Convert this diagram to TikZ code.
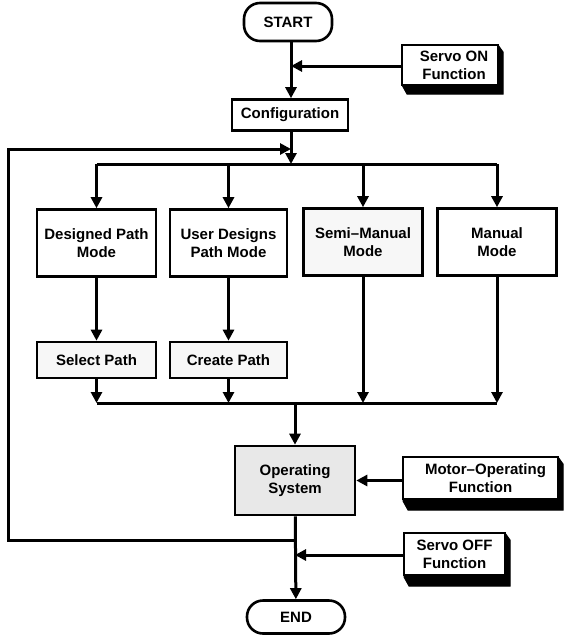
\documentclass[tikz,border=0pt]{standalone}
\usepackage{fontspec}
\setmainfont{Liberation Sans}
\usetikzlibrary{arrows.meta}
\begin{document}
\begin{tikzpicture}[x=1pt,y=1pt,
  every node/.style={font=\fontsize{15}{18}\selectfont\bfseries, align=center, inner sep=1pt},
  box/.style={draw, line width=2.6pt, fill=white, minimum width=119pt, minimum height=67pt},
  smallbox/.style={box, minimum height=36pt},
  term/.style={draw, line width=2.6pt, fill=white, rounded corners=16pt, minimum width=88pt, minimum height=38pt},
  fnbox/.style={draw, line width=2.6pt, fill=white},
  shadowfill/.style={fill=black, draw=black, line width=1pt, line join=miter},
  conn/.style={line width=3pt},
  arr/.style={conn, -{Triangle[length=11pt,width=11pt]}}
]
\useasboundingbox (0,0) rectangle (566,-635);

% 3D shadows (drawn behind the boxes)
\filldraw[shadowfill] (402,-45) -- (498,-45) -- (503,-52) -- (503,-94) -- (407,-94) -- (402,-85) -- cycle;
\filldraw[shadowfill] (403,-457) -- (558,-457) -- (563,-464) -- (563,-510) -- (408,-510) -- (403,-501) -- cycle;
\filldraw[shadowfill] (404,-533) -- (505,-533) -- (510,-540) -- (510,-586) -- (409,-586) -- (404,-577) -- cycle;

% nodes
\node[term] (start) at (288,-22) {START};
\node[box, minimum width=116pt, minimum height=31pt] (config) at (290,-115) {Configuration};
\node[fnbox, minimum width=96pt, minimum height=40pt] (son) at (450,-65) {\hspace*{8pt}Servo ON\\\hspace*{8pt}Function};

\node[box] (dp) at (96.5,-243) {Designed Path\\Mode};
\node[box, minimum width=117pt] (ud) at (228.5,-243) {User Designs\\Path Mode};
\node[box, fill=gray!6] (sm) at (363,-242) {Semi--Manual\\Mode};
\node[box] (mm) at (497,-242) {Manual\\Mode};

\node[smallbox, fill=gray!6] (sel) at (96.5,-360) {Select Path};
\node[smallbox, minimum width=117pt, fill=gray!6] (cre) at (228.5,-360) {Create Path};

\node[box, minimum width=120pt, minimum height=69pt, fill=gray!18] (os) at (295,-480.5) {Operating\\System};
\node[fnbox, minimum width=155pt, minimum height=42pt] (mot) at (480.5,-478) {\hspace*{10pt}Motor--Operating\\Function};
\node[fnbox, minimum width=101pt, minimum height=42pt] (soff) at (454.5,-554) {Servo OFF\\Function};
\node[term, minimum width=98pt, minimum height=33pt] (end) at (296,-617) {END};

% junction coordinates
\coordinate (jon) at (291,-66);
\coordinate (jloop) at (291,-149);
\coordinate (dist) at (291,-164);
\coordinate (dl) at (96.5,-164);
\coordinate (dr) at (497,-164);
\coordinate (coll) at (295,-403);
\coordinate (cl) at (96.5,-403);
\coordinate (cr) at (497,-403);
\coordinate (lstart) at (295,-540);
\coordinate (lb) at (8,-540);
\coordinate (lt) at (8,-149);
\coordinate (joff) at (295,-555);

% connectors top
\draw[arr] (start.south -| jon) -- (config.north -| jon);
\draw[arr] (son.west |- jon) -- (jon);
\draw[arr] (config.south -| dist) -- (dist);
\draw[conn] (dl) -- (dr);
\draw[arr] (dl) -- (dp.north);
\draw[arr] (ud.north |- dl) -- (ud.north);
\draw[arr] (sm.north |- dl) -- (sm.north);
\draw[arr] (dr) -- (mm.north);

% mode to sub
\draw[arr] (dp) -- (sel);
\draw[arr] (ud) -- (cre);

% collection
\draw[arr] (sel) -- (cl);
\draw[arr] (cre) -- (cre.south |- cl);
\draw[arr] (sm) -- (sm.south |- cl);
\draw[arr] (mm) -- (cr);
\draw[conn] (cl) -- (cr);
\draw[arr] (coll) -- (os);

% operating
\draw[arr] (mot.west |- os.east) -- (os.east);
\draw[arr] (os) -- (end);

% loop
\draw[arr] (lstart) -- (lb) -- (lt) -- (jloop);
\draw[arr] (soff.west |- joff) -- (joff);
\end{tikzpicture}
\end{document}
